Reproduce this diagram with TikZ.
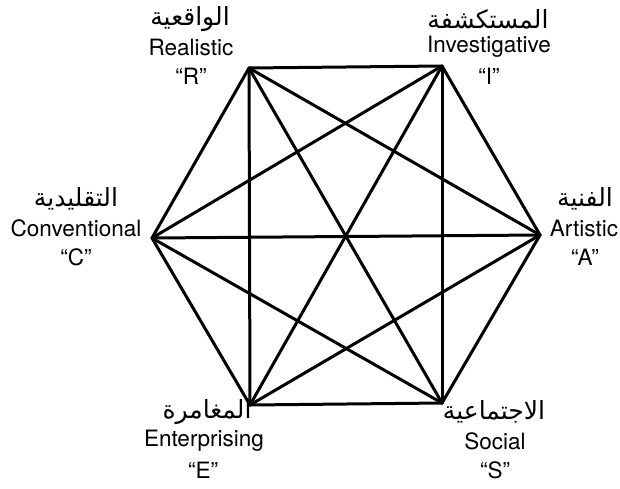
\documentclass[tikz,border=0pt]{standalone}
\usepackage{fontspec}
\setmainfont{TeX Gyre Heros}
\newfontfamily\arabicfont[Script=Arabic]{DejaVu Sans}
\TeXXeTstate=1
\begin{document}
\begin{tikzpicture}[x=1pt,y=-1pt,
  edge/.style={line width=3pt,line join=round,line cap=round},
  lab/.style={align=center,font=\fontsize{22.5}{28}\selectfont,inner sep=0pt},
  ar/.style={font=\fontsize{25}{28}\arabicfont,inner sep=0pt}]
\useasboundingbox (0,0) rectangle (620,488);
\coordinate (R) at (249,68);
\coordinate (I) at (442,66);
\coordinate (A) at (540,235);
\coordinate (S) at (442,403);
\coordinate (E) at (250,405);
\coordinate (C) at (152,238);
\foreach \a/\b in {R/I,I/A,A/S,S/E,E/C,C/R,R/A,R/S,R/E,I/S,I/E,I/C,A/E,A/C,S/C}
  \draw[edge] (\a) -- (\b);
% labels
\node[ar] (Rar) at (190,19) {\beginR الواقعية\endR};
\node[lab] (Ren) at (191,47) {Realistic};
\node[lab] (Rq) at (191,76) {“R”};
\node[ar] (Iar) at (488,19) {\beginR المستكشفة\endR};
\node[lab] (Ien) at (489,47) {Investigative};
\node[lab] (Iq) at (489,76) {“I”};
\node[ar] (Car) at (76,199) {\beginR التقليدية\endR};
\node[lab] (Cen) at (76,228) {Conventional};
\node[lab] (Cq) at (76,257) {“C”};
\node[ar] (Aar) at (585,199) {\beginR الفنية\endR};
\node[lab] (Aen) at (584,228) {Artistic};
\node[lab] (Aq) at (585,257) {“A”};
\node[ar] (Ear) at (207,412) {\beginR المغامرة\endR};
\node[lab] (Een) at (204,441) {Enterprising};
\node[lab] (Eq) at (203,470) {“E”};
\node[ar] (Sar) at (494,412) {\beginR الاجتماعية\endR};
\node[lab] (Sen) at (495,441) {Social};
\node[lab] (Sq) at (495,470) {“S”};
\end{tikzpicture}
\end{document}
